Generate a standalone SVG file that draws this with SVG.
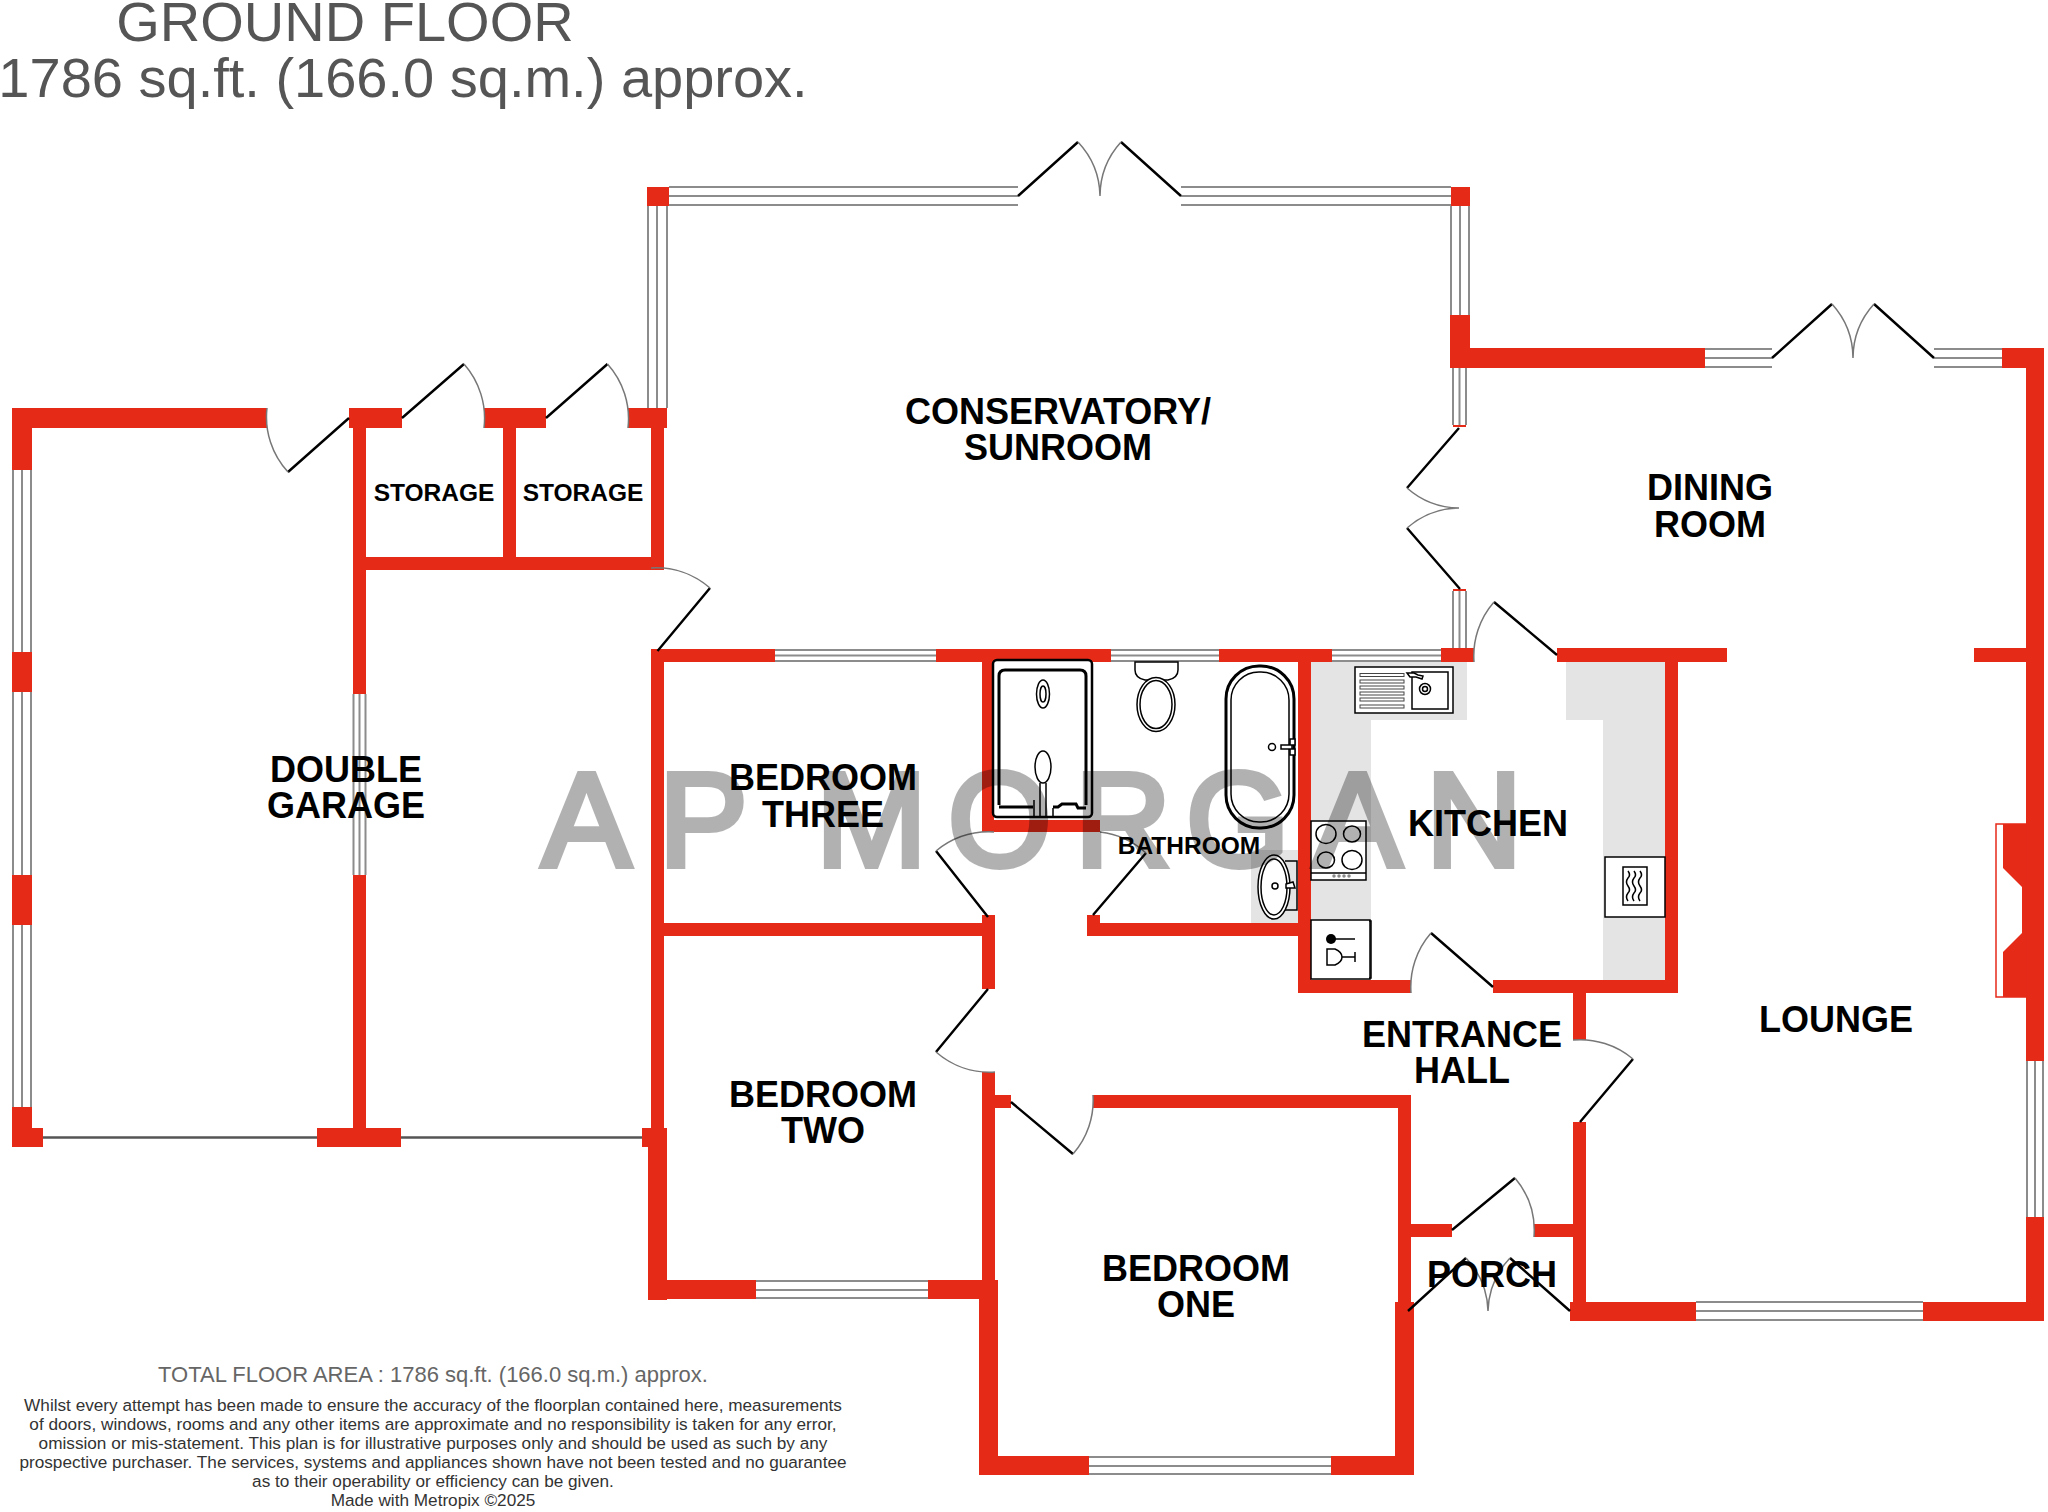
<svg xmlns="http://www.w3.org/2000/svg" width="2048" height="1512" viewBox="0 0 2048 1512">
<style>
.wall{fill:#e52a18}
.win{fill:none;stroke:#8c8c8c;stroke-width:2}
.leaf{fill:none;stroke:#000;stroke-width:2.4}
.arc{fill:none;stroke:#777;stroke-width:1.5}
.fx{fill:#fff;stroke:#000;stroke-width:1.5}
.fxn{fill:none;stroke:#000;stroke-width:1.5}
.fxb{fill:none;stroke:#000;stroke-width:3}
.drain{fill:#fff;stroke:#444;stroke-width:1}
.top{fill:#e4e4e5}
.lbl{font-family:"Liberation Sans",Arial,sans-serif;font-weight:700;font-size:36px;fill:#000;text-anchor:middle}
.sm{font-size:24.500px}
.head{font-family:"Liberation Sans",Arial,sans-serif;font-size:56px;fill:#555;text-anchor:middle}
.foot{font-family:"Liberation Sans",Arial,sans-serif;font-size:17.200px;fill:#333;text-anchor:middle}
</style>
<rect width="2048" height="1512" fill="#fff"/>
<g id="heading">
<text class="head" x="345" y="41">GROUND FLOOR</text>
<text class="head" x="403" y="97">1786 sq.ft. (166.0 sq.m.) approx.</text>
</g>
<g id="worktops">
<rect class="top" x="1311" y="662" width="156" height="58"/>
<rect class="top" x="1311" y="662" width="60" height="318"/>
<rect class="top" x="1566" y="662" width="99" height="58"/>
<rect class="top" x="1603" y="662" width="62" height="318"/>
<rect class="top" x="1251" y="850" width="47" height="73"/>
</g>
<g id="walls">
<rect class="wall" x="12" y="408" width="255" height="20"/>
<rect class="wall" x="12" y="408" width="20" height="62"/>
<rect class="wall" x="12" y="652" width="20" height="40"/>
<rect class="wall" x="12" y="875" width="20" height="50"/>
<rect class="wall" x="12" y="1107" width="20" height="40"/>
<rect class="wall" x="12" y="1128" width="31" height="19"/>
<rect class="wall" x="349" y="408" width="53" height="20"/>
<rect class="wall" x="353" y="428" width="13" height="266"/>
<rect class="wall" x="353" y="875" width="13" height="253"/>
<rect class="wall" x="317" y="1128" width="84" height="19"/>
<rect class="wall" x="484" y="408" width="62" height="20"/>
<rect class="wall" x="503" y="428" width="13" height="129"/>
<rect class="wall" x="628" y="408" width="39" height="20"/>
<rect class="wall" x="651" y="428" width="13" height="129"/>
<rect class="wall" x="353" y="557" width="311" height="13"/>
<rect class="wall" x="642" y="1128" width="25" height="19"/>
<rect class="wall" x="651" y="649" width="13" height="479"/>
<rect class="wall" x="651" y="649" width="124" height="13"/>
<rect class="wall" x="936" y="649" width="175" height="13"/>
<rect class="wall" x="1219" y="649" width="113" height="13"/>
<rect class="wall" x="1441" y="648" width="33" height="14"/>
<rect class="wall" x="1557" y="648" width="170" height="14"/>
<rect class="wall" x="1974" y="648" width="70" height="14"/>
<rect class="wall" x="982" y="649" width="12" height="183"/>
<rect class="wall" x="982" y="820" width="118" height="12"/>
<rect class="wall" x="648" y="1147" width="19" height="153"/>
<rect class="wall" x="648" y="1280" width="108" height="19"/>
<rect class="wall" x="928" y="1280" width="70" height="19"/>
<rect class="wall" x="982" y="1072" width="13" height="208"/>
<rect class="wall" x="982" y="915" width="13" height="74"/>
<rect class="wall" x="651" y="923" width="331" height="13"/>
<rect class="wall" x="1087" y="915" width="13" height="21"/>
<rect class="wall" x="1087" y="923" width="211" height="13"/>
<rect class="wall" x="1298" y="649" width="13" height="344"/>
<rect class="wall" x="1298" y="980" width="113" height="13"/>
<rect class="wall" x="1493" y="980" width="185" height="13"/>
<rect class="wall" x="1665" y="649" width="13" height="344"/>
<rect class="wall" x="1573" y="993" width="13" height="47"/>
<rect class="wall" x="995" y="1095" width="16" height="13"/>
<rect class="wall" x="1093" y="1095" width="318" height="13"/>
<rect class="wall" x="1398" y="1095" width="13" height="207"/>
<rect class="wall" x="1395" y="1302" width="19" height="173"/>
<rect class="wall" x="979" y="1280" width="19" height="195"/>
<rect class="wall" x="979" y="1456" width="110" height="19"/>
<rect class="wall" x="1331" y="1456" width="83" height="19"/>
<rect class="wall" x="1398" y="1224" width="54" height="13"/>
<rect class="wall" x="1534" y="1224" width="52" height="13"/>
<rect class="wall" x="1573" y="1122" width="13" height="180"/>
<rect class="wall" x="1570" y="1302" width="126" height="19"/>
<rect class="wall" x="1923" y="1302" width="121" height="19"/>
<rect class="wall" x="2026" y="348" width="18" height="713"/>
<rect class="wall" x="2026" y="1217" width="18" height="104"/>
<rect class="wall" x="2002" y="348" width="42" height="20"/>
<rect class="wall" x="1450" y="315" width="20" height="53"/>
<rect class="wall" x="1450" y="348" width="255" height="20"/>
<rect class="wall" x="647" y="187" width="22" height="19"/>
<rect class="wall" x="1451" y="187" width="19" height="19"/>
<rect class="wall" x="1453" y="425" width="13" height="2"/>
<rect class="wall" x="1453" y="589" width="13" height="2"/>
<rect x="1996" y="824" width="30" height="173" fill="#fff" stroke="#e52a18" stroke-width="1.5"/>
<polygon class="wall" points="2003,824 2026,824 2026,997 2003,997 2003,952 2022,933 2022,887 2003,868"/>
</g>
<g id="windows">
<path class="win" d="M669 187H1018M669 196H1018M669 205H1018M1181 187H1451M1181 196H1451M1181 205H1451"/>
<path class="win" d="M648 206V408M657 206V408M667 206V408"/>
<path class="win" d="M1451 206V315M1460 206V315M1469 206V315"/>
<path class="win" d="M1453 368V425M1459.500 368V425M1466 368V425M1453 591V648M1459.500 591V648M1466 591V648"/>
<path class="win" d="M1705 349H1772M1705 358H1772M1705 367H1772M1934 349H2002M1934 358H2002M1934 367H2002"/>
<path class="win" d="M13 470V652M22 470V652M31 470V652M13 692V875M22 692V875M31 692V875M13 925V1107M22 925V1107M31 925V1107"/>
<path class="win" d="M353.500 694V875M359.500 694V875M365.500 694V875"/>
<path class="win" d="M775 650H936M775 655.500H936M775 661H936M1111 650H1219M1111 655.500H1219M1111 661H1219M1332 650H1441M1332 655.500H1441M1332 661H1441"/>
<path class="win" d="M756 1281H928M756 1290H928M756 1298H928"/>
<path class="win" d="M1089 1457H1331M1089 1466H1331M1089 1474H1331"/>
<path class="win" d="M1696 1302H1923M1696 1311H1923M1696 1320H1923"/>
<path class="win" d="M2027 1061V1217M2035 1061V1217M2043 1061V1217"/>
<path d="M43 1137.500H317M401 1137.500H642" fill="none" stroke="#555" stroke-width="2.500"/>
</g>
<g id="doors">
<path class="leaf" d="M349 418L288 472M402 418L464 364M546 418L607.500 364M657.500 651L710 588M1011 1102L1073 1154M988 989L936 1052M1093 915L1146 853M988 917L936 851M1493 987L1431 933M1557 655L1494 602M1580 1122L1633 1059M1452 1230L1515 1178M1408 1311L1466 1258M1570 1311L1510 1258M1018 196L1078 142M1181 196L1121 142M1772 358L1832 304M1934 358L1874 304M1459 428L1407 488M1460 589L1407 528"/>
<path class="arc" d="M288 472A81 81 0 0 1 267 408M464 364A82 82 0 0 1 484 428M607.500 364A82 82 0 0 1 628 428M710 588A82 82 0 0 0 651 568M1073 1154A81 81 0 0 0 1093 1095M936 1052A82 82 0 0 0 995 1072M1146 853A82 82 0 0 0 1100 832M936 851A84 84 0 0 1 994 832M1431 933A82 82 0 0 0 1411 993M1494 602A82 82 0 0 0 1474 662M1633 1059A82 82 0 0 0 1573 1040M1515 1178A82 82 0 0 1 1534 1237M1466 1258A80 80 0 0 1 1488 1311M1510 1258A80 80 0 0 0 1488 1311M1078 142A81 81 0 0 1 1100 196M1121 142A81 81 0 0 0 1100 196M1832 304A81 81 0 0 1 1853 358M1874 304A81 81 0 0 0 1853 358M1407 488A80 80 0 0 0 1459 508M1407 528A80 80 0 0 1 1459 508"/>
</g>
<g id="shower">
<rect x="993" y="660" width="99" height="157" rx="4" fill="#fff" stroke="#000" stroke-width="2.500"/>
<path class="fxb" d="M999 805V676Q999 670 1005 670H1080Q1086 670 1086 676V805"/>
<path class="fxb" d="M999 807H1033M1053 807H1058L1062 804H1076L1078 808H1086"/>
<ellipse class="fxn" cx="1043" cy="694" rx="6.500" ry="14"/>
<ellipse class="fxn" cx="1043" cy="694" rx="3" ry="8"/>
<ellipse class="fx" cx="1043" cy="767" rx="8" ry="16"/>
<path class="fxn" d="M1040 783V817M1046 783V817M1034 800V817M1053 808V817"/>
</g>
<g id="toilet">
<path class="fx" d="M1135 662H1178V670Q1178 678 1168 680H1145Q1135 678 1135 670Z"/>
<ellipse class="fx" cx="1156" cy="704.500" rx="19" ry="27"/>
<ellipse class="fxn" cx="1156" cy="704.500" rx="16" ry="24"/>
</g>
<g id="bath">
<rect x="1226" y="666" width="68" height="162" rx="33" fill="#fff" stroke="#000" stroke-width="3"/>
<rect x="1231" y="672" width="58" height="150" rx="28" fill="none" stroke="#000" stroke-width="1.500"/>
<circle class="fxn" cx="1272" cy="747" r="3.500"/>
<path class="fx" d="M1281 745H1292V749H1281ZM1290 739H1295V745H1290ZM1290 749H1295V755H1290Z"/>
</g>
<g id="basin">
<path class="fxn" d="M1285 861H1297V910H1285"/>
<ellipse class="fx" cx="1274" cy="887" rx="16" ry="32"/>
<ellipse class="fxn" cx="1274" cy="887" rx="13" ry="28"/>
<circle class="fxn" cx="1275" cy="886" r="3"/>
<path class="fx" d="M1286 884L1293 882L1295 888L1286 888Z"/>
</g>
<g id="sink">
<rect class="fx" x="1355" y="667" width="98" height="46"/>
<rect class="drain" x="1360" y="673.500" width="44" height="3"/>
<rect class="drain" x="1360" y="680" width="44" height="3"/>
<rect class="drain" x="1360" y="686" width="44" height="3"/>
<rect class="drain" x="1360" y="692" width="44" height="3"/>
<rect class="drain" x="1360" y="698" width="44" height="3"/>
<rect class="drain" x="1360" y="705" width="44" height="3"/>
<rect class="fx" x="1412" y="672" width="36" height="37"/>
<circle class="fxn" cx="1425" cy="689" r="5.500"/>
<circle class="fxn" cx="1425" cy="689" r="2.500"/>
<path class="fx" d="M1407 673H1414L1418 675L1423 676L1422 679L1416 677H1410Z"/>
</g>
<g id="hob">
<rect class="fx" x="1311" y="821" width="55" height="59"/>
<path class="fxn" d="M1311 873H1366"/>
<ellipse class="fxn" cx="1326" cy="834" rx="10" ry="9.500"/>
<ellipse class="fxn" cx="1352" cy="834" rx="8.500" ry="8"/>
<ellipse class="fxn" cx="1326" cy="860" rx="8.500" ry="8"/>
<ellipse class="fxn" cx="1352" cy="860" rx="10" ry="9.500"/>
<path d="M1334 876h0M1339 876h0M1344 876h0M1349 876h0" fill="none" stroke="#888" stroke-width="3.500" stroke-linecap="round"/>
</g>
<g id="wine-cooler">
<rect class="fx" x="1311" y="920" width="59" height="59"/>
<path class="fxn" d="M1369 921H1371V978H1369"/>
<circle cx="1331" cy="939" r="5" fill="#000"/>
<path class="fxn" d="M1331 939H1355"/>
<path class="fxn" d="M1327 949H1335Q1342 952 1342 957Q1342 962 1335 965H1327ZM1342 957H1355M1355 952V962"/>
</g>
<g id="microwave">
<rect class="fx" x="1605" y="857" width="60" height="60"/>
<rect class="fx" x="1623" y="867" width="24" height="38"/>
<path class="fxn" d="M1628 871q3 4 0 7q-3 4 0 8q3 4 0 7q-3 4 0 8M1634 871q3 4 0 7q-3 4 0 8q3 4 0 7q-3 4 0 8M1640 871q3 4 0 7q-3 4 0 8q3 4 0 7q-3 4 0 8"/>
</g>
<g id="labels">
<text class="lbl" x="1058" y="424">CONSERVATORY/</text>
<text class="lbl" x="1058" y="460">SUNROOM</text>
<text class="lbl" x="1710" y="500">DINING</text>
<text class="lbl" x="1710" y="537">ROOM</text>
<text class="lbl sm" x="434" y="501">STORAGE</text>
<text class="lbl sm" x="583" y="501">STORAGE</text>
<text class="lbl" x="346" y="782">DOUBLE</text>
<text class="lbl" x="346" y="818">GARAGE</text>
<text class="lbl" x="823" y="790">BEDROOM</text>
<text class="lbl" x="823" y="827">THREE</text>
<text class="lbl" x="823" y="1107">BEDROOM</text>
<text class="lbl" x="823" y="1143">TWO</text>
<text class="lbl" x="1196" y="1281">BEDROOM</text>
<text class="lbl" x="1196" y="1317">ONE</text>
<text class="lbl sm" x="1189" y="854">BATHROOM</text>
<text class="lbl" x="1488" y="836">KITCHEN</text>
<text class="lbl" x="1462" y="1047">ENTRANCE</text>
<text class="lbl" x="1462" y="1083">HALL</text>
<text class="lbl" x="1492" y="1287">PORCH</text>
<text class="lbl" x="1836" y="1032">LOUNGE</text>
</g>
<g id="footer">
<text class="foot" x="433" y="1382" style="font-size:22px;fill:#666">TOTAL FLOOR AREA : 1786 sq.ft. (166.0 sq.m.) approx.</text>
<text class="foot" x="433" y="1411">Whilst every attempt has been made to ensure the accuracy of the floorplan contained here, measurements</text>
<text class="foot" x="433" y="1430">of doors, windows, rooms and any other items are approximate and no responsibility is taken for any error,</text>
<text class="foot" x="433" y="1449">omission or mis-statement. This plan is for illustrative purposes only and should be used as such by any</text>
<text class="foot" x="433" y="1468">prospective purchaser. The services, systems and appliances shown have not been tested and no guarantee</text>
<text class="foot" x="433" y="1487">as to their operability or efficiency can be given.</text>
<text class="foot" x="433" y="1506">Made with Metropix ©2025</text>
</g>
<text id="watermark" x="542 659 740 816 948 1075 1186 1313 1426" y="866" font-family="Liberation Sans,Arial,sans-serif" font-size="133" fill="#000" stroke="#000" stroke-width="6" opacity="0.3">AP MORGAN</text>
</svg>
